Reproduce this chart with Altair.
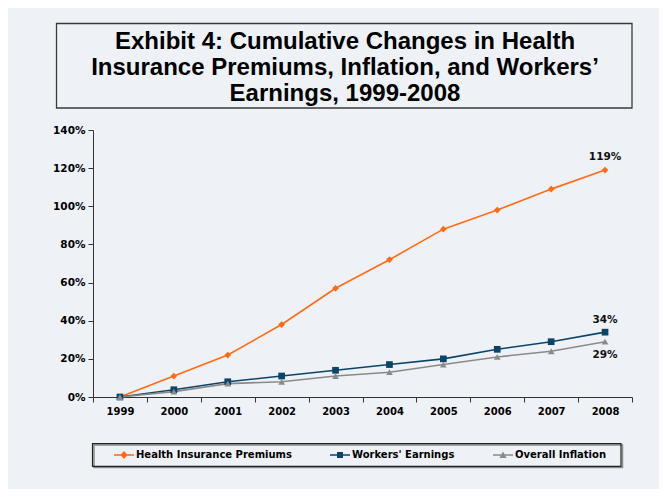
import altair as alt
import pandas as pd

years = ["1999", "2000", "2001", "2002", "2003", "2004", "2005", "2006", "2007", "2008"]
health = [0, 11, 22, 38, 57, 72, 88, 98, 109, 119]
workers = [0, 3.8, 8, 11, 14, 17, 20, 25, 29, 34]
inflation = [0, 2.8, 7, 8, 11, 13, 17, 21, 24, 29]
series_names = ["Health Insurance Premiums", "Workers' Earnings", "Overall Inflation"]
series_values = [health, workers, inflation]
colors = ["#FF6A13", "#0B4468", "#8A8A8A"]
marker_shapes = ["diamond", "square", "triangle-up"]
legend_paths = [
    "M-1,-0.08H1V0.08H-1Z M0,-0.4L0.36,0L0,0.4L-0.36,0Z",
    "M-1,-0.08H1V0.08H-1Z M-0.3,-0.3H0.3V0.3H-0.3Z",
    "M-1,-0.08H1V0.08H-1Z M0,-0.36L0.36,0.3H-0.36Z",
]
end_labels = ["119%", "34%", "29%"]
end_label_dy = [-13, -12, 13]
y_ticks = [0, 20, 40, 60, 80, 100, 120, 140]
title_lines = [
    "Exhibit 4: Cumulative Changes in Health",
    "Insurance Premiums, Inflation, and Workers\u2019",
    "Earnings, 1999-2008",
]

BG = "#EEF2F6"

rows = []
for name, vals in zip(series_names, series_values):
    for yr, v in zip(years, vals):
        rows.append({"year": yr, "series": name, "value": v})
df = pd.DataFrame(rows)

lab_df = pd.DataFrame({
    "year": [years[-1]] * 3,
    "series": series_names,
    "value": [vals[-1] for vals in series_values],
    "label": end_labels,
})

x_enc = alt.X(
    "year:O",
    bandPosition=0.5,
    scale=alt.Scale(type="band", domain=years, paddingInner=0, paddingOuter=0),
    axis=alt.Axis(title=None, tickBand="extent", labelAngle=0, tickSize=5,
                  labelPadding=4, labelFontSize=10),
)
y_enc = alt.Y(
    "value:Q",
    scale=alt.Scale(domain=[0, 140], nice=False),
    axis=alt.Axis(title=None, values=y_ticks, labelExpr="datum.value + '%'",
                  tickSize=5, labelPadding=3, grid=False, labelFontSize=10.5),
)
color_scale = alt.Scale(domain=series_names, range=colors)

legend_props = dict(
    title=None, orient="none", legendX=21, legendY=315, direction="horizontal",
    labelFont="DejaVu Sans", labelFontSize=10, labelFontWeight="bold",
    labelColor="#000000", symbolSize=400, symbolStrokeWidth=0, labelOffset=2,
    columnPadding=38, padding=0, symbolOpacity=1,
)

base = alt.Chart(df)

lines = base.mark_line(strokeWidth=1.6).encode(
    x=x_enc, y=y_enc,
    color=alt.Color("series:N", scale=color_scale, legend=None),
)

points = base.mark_point(filled=True, size=45, opacity=1).encode(
    x=x_enc, y=y_enc,
    color=alt.Color("series:N", scale=color_scale, legend=None),
    shape=alt.Shape("series:N", scale=alt.Scale(domain=series_names, range=marker_shapes), legend=None),
)

legend_layer = base.transform_filter("false").mark_point(filled=True, opacity=1).encode(
    x=x_enc, y=y_enc,
    color=alt.Color("series:N", scale=color_scale, legend=alt.Legend(**legend_props)),
    shape=alt.Shape("series:N", scale=alt.Scale(domain=series_names, range=legend_paths),
                    legend=alt.Legend(**legend_props)),
)

label_layers = []
for name, dy in zip(series_names, end_label_dy):
    label_layers.append(
        alt.Chart(lab_df).transform_filter(alt.datum.series == name).mark_text(
            font="DejaVu Sans", fontSize=10.5, fontWeight="bold", color="#111111", dy=dy
        ).encode(x=x_enc, y=y_enc, text="label:N")
    )

one = pd.DataFrame({"k": [0]})
title_box = alt.Chart(one).mark_rect(fillOpacity=0, stroke="#3A3A3A", strokeWidth=1.3).encode(
    x=alt.value(-36.5), x2=alt.value(539), y=alt.value(-106.5), y2=alt.value(-22)
)
title_text = alt.Chart(one).mark_text(
    font="Liberation Sans", fontSize=24, fontWeight="bold", color="#000000",
    lineHeight=26, align="center", baseline="middle",
).encode(
    x=alt.value(252), y=alt.value(-88), text=alt.value(title_lines)
)
legend_shadow = alt.Chart(one).mark_rect(fillOpacity=0, stroke="#8C8C8C", strokeWidth=1.5).encode(
    x=alt.value(1), x2=alt.value(529.5), y=alt.value(315), y2=alt.value(337.5)
)
legend_box = alt.Chart(one).mark_rect(fillOpacity=0, stroke="#222222", strokeWidth=1.2).encode(
    x=alt.value(-0.5), x2=alt.value(528), y=alt.value(313.6), y2=alt.value(336.4)
)

chart = alt.layer(
    title_box, title_text, legend_shadow, legend_box, lines, points, legend_layer, *label_layers
).resolve_scale(
    shape="independent", color="independent"
).properties(
    width=539,
    height=267,
    autosize=alt.AutoSizeParams(type="none"),
    padding={"left": 85, "top": 122, "right": 27, "bottom": 92},
    background=BG,
).configure_view(
    stroke=None, fill=BG
).configure_axis(
    labelFont="DejaVu Sans", labelFontWeight="bold", labelColor="#000000",
    domainColor="#333333", tickColor="#333333", domainWidth=1, tickWidth=1,
)

chart.save("out.html", embed_options={"renderer": "svg", "actions": False})
